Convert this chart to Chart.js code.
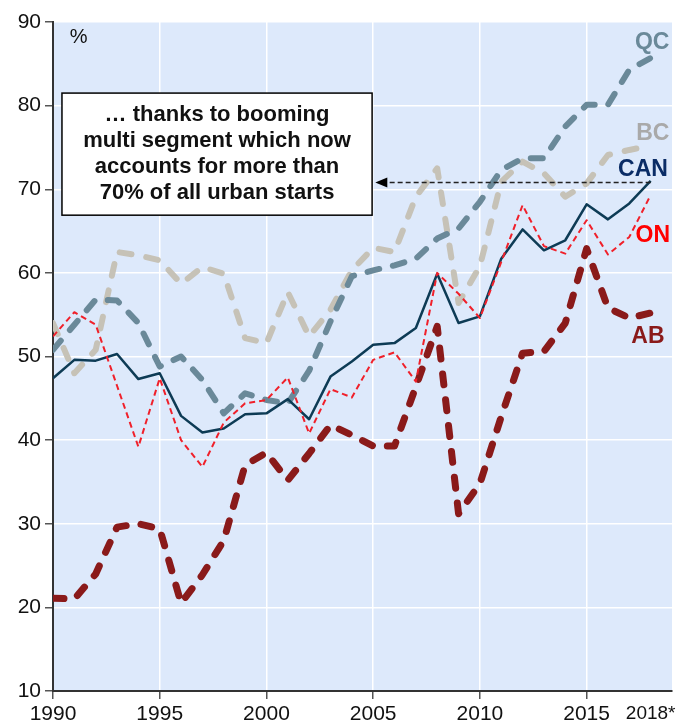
<!DOCTYPE html>
<html>
<head>
<meta charset="utf-8">
<script src="https://cdn.jsdelivr.net/npm/chart.js@4.4.0/dist/chart.umd.min.js"></script>
<style>
  body { margin: 0; background: #fff; }
  #chart { display: block; }
</style>
</head>
<body>
<canvas id="chart" width="690" height="726"></canvas>
<script>
const years = [1990, 1991, 1992, 1993, 1994, 1995, 1996, 1997, 1998, 1999,
    2000, 2001, 2002, 2003, 2004, 2005, 2006, 2007, 2008, 2009,
    2010, 2011, 2012, 2013, 2014, 2015, 2016, 2017, 2018];

const qc = [50.8, 53.8, 56.8, 56.7, 54.0, 48.8, 50.0, 47.2, 43.2, 45.6,
    44.8, 44.4, 48.3, 54.2, 59.6, 60.3, 60.9, 61.7, 64.1, 65.3,
    68.5, 72.3, 73.7, 73.7, 77.5, 80.1, 80.1, 84.3, 85.7];
const bc = [54.0, 48.0, 50.8, 62.5, 62.1, 61.5, 58.7, 60.7, 59.9, 52.2,
    51.6, 57.7, 52.4, 55.6, 60.3, 63.0, 62.5, 69.1, 72.5, 56.4,
    60.8, 70.9, 73.3, 71.9, 69.1, 70.7, 74.1, 74.7, 75.2];
const can = [47.4, 49.6, 49.5, 50.3, 47.3, 48.0, 42.9, 40.9, 41.4, 43.1,
    43.2, 44.9, 42.5, 47.6, 49.4, 51.4, 51.6, 53.4, 59.9, 54.0,
    54.8, 61.7, 65.2, 62.7, 63.9, 68.2, 66.4, 68.3, 71.0];
const on = [52.4, 55.3, 53.8, 46.5, 39.2, 47.4, 40.0, 36.8, 42.1, 44.4,
    44.8, 47.5, 40.8, 46.1, 45.1, 49.6, 50.5, 47.0, 60.0, 57.5,
    54.6, 61.3, 68.1, 63.2, 62.3, 66.3, 62.2, 64.3, 69.3];
const ab = [21.1, 21.0, 24.0, 29.6, 30.0, 29.4, 20.5, 23.9, 28.0, 37.0,
    38.5, 35.2, 38.4, 41.8, 40.6, 39.3, 39.3, 46.4, 53.6, 31.2,
    34.8, 42.8, 50.4, 50.6, 54.0, 62.9, 55.8, 54.6, 55.2];

const xTicks = [1990, 1995, 2000, 2005, 2010, 2015, 2018];
const yTicks = [10, 20, 30, 40, 50, 60, 70, 80, 90];

const noteLines = [
    "\u2026 thanks to booming",
    "multi segment which now",
    "accounts for more than",
    "70% of all urban starts"
];

const FONT = "Arial, 'Liberation Sans', sans-serif";

function pts(values) {
    return years.map((y, i) => ({ x: y, y: values[i] }));
}

// annotations placed in data units
const seriesLabels = [
    { text: "QC", x: 2018.07, y: 87.5, color: "#6a8999" },
    { text: "BC", x: 2018.1, y: 76.7, color: "#a9a9a9" },
    { text: "CAN", x: 2017.64, y: 72.3, color: "#0a2c66" },
    { text: "ON", x: 2018.1, y: 64.5, color: "#ff0000" },
    { text: "AB", x: 2017.87, y: 52.4, color: "#8a1a1a" }
];
const noteBox = { x0: 1990.42, x1: 2004.95, y0: 66.9, y1: 81.5 };
const arrow = { from: 2018, to: 2005.1, y: 70.8 };

const extras = {
    id: "extras",
    beforeDraw(chart) {
        const { ctx, chartArea: a } = chart;
        ctx.save();
        ctx.fillStyle = "#dde9fb";
        ctx.fillRect(a.left, a.top, a.right - a.left, a.bottom - a.top);
        ctx.restore();
    },
    afterDatasetsDraw(chart) {
        const { ctx, scales } = chart;
        const X = scales.x, Y = scales.y;
        ctx.save();

        // % unit
        ctx.fillStyle = "#111";
        ctx.font = "20px " + FONT;
        ctx.textAlign = "center";
        ctx.textBaseline = "middle";
        ctx.fillText("%", X.getPixelForValue(1991.2), Y.getPixelForValue(88.2));

        // series labels
        ctx.font = "bold 23px " + FONT;
        seriesLabels.forEach((l) => {
            ctx.fillStyle = l.color;
            ctx.fillText(l.text, X.getPixelForValue(l.x), Y.getPixelForValue(l.y));
        });

        // dashed arrow
        const ay = Y.getPixelForValue(arrow.y);
        const ax0 = X.getPixelForValue(arrow.from);
        const ax1 = X.getPixelForValue(arrow.to);
        ctx.strokeStyle = "#222";
        ctx.lineWidth = 1.5;
        ctx.setLineDash([5, 3]);
        ctx.beginPath();
        ctx.moveTo(ax0, ay);
        ctx.lineTo(ax1 + 10, ay);
        ctx.stroke();
        ctx.setLineDash([]);
        ctx.fillStyle = "#000";
        ctx.beginPath();
        ctx.moveTo(ax1, ay);
        ctx.lineTo(ax1 + 12, ay - 5);
        ctx.lineTo(ax1 + 12, ay + 5);
        ctx.closePath();
        ctx.fill();

        // note box
        const bx0 = X.getPixelForValue(noteBox.x0);
        const bx1 = X.getPixelForValue(noteBox.x1);
        const by0 = Y.getPixelForValue(noteBox.y1);
        const by1 = Y.getPixelForValue(noteBox.y0);
        ctx.fillStyle = "#fff";
        ctx.fillRect(bx0, by0, bx1 - bx0, by1 - by0);
        ctx.strokeStyle = "#000";
        ctx.lineWidth = 1.5;
        ctx.strokeRect(bx0, by0, bx1 - bx0, by1 - by0);
        ctx.fillStyle = "#111";
        ctx.font = "bold 22px " + FONT;
        const cx = (bx0 + bx1) / 2;
        const cy = (by0 + by1) / 2;
        const lh = 26;
        noteLines.forEach((t, i) => {
            ctx.fillText(t, cx, cy + (i - (noteLines.length - 1) / 2) * lh);
        });
        ctx.restore();
    }
};

new Chart(document.getElementById("chart"), {
    type: "line",
    data: {
        datasets: [
            {
                label: "BC", data: pts(bc), borderColor: "#c6c2b7", borderWidth: 6,
                borderDash: [12, 15], borderCapStyle: "round", order: 5
            },
            {
                label: "QC", data: pts(qc), borderColor: "#6a8999", borderWidth: 6,
                borderDash: [12, 14], borderCapStyle: "round", order: 4
            },
            {
                label: "AB", data: pts(ab), borderColor: "#8a1a1a", borderWidth: 7,
                borderDash: [11, 15], borderCapStyle: "round", order: 3
            },
            {
                label: "CAN", data: pts(can), borderColor: "#0d3b55", borderWidth: 2.5,
                order: 2
            },
            {
                label: "ON", data: pts(on), borderColor: "#f0202a", borderWidth: 2,
                borderDash: [6, 4], order: 1
            }
        ]
    },
    options: {
        responsive: false,
        animation: false,
        layout: { padding: { top: 22, right: 18, left: 0, bottom: 0 } },
        elements: {
            point: { radius: 0 },
            line: { tension: 0, fill: false, borderJoinStyle: "round" }
        },
        plugins: {
            legend: { display: false },
            tooltip: { enabled: false }
        },
        scales: {
            x: {
                type: "linear",
                min: 1990,
                max: 2019,
                afterBuildTicks: (s) => { s.ticks = xTicks.map((v) => ({ value: v })); },
                afterFit: (s) => { s.height = 35; },
                border: { color: "#333", width: 2 },
                grid: {
                    color: (c) => (c.tick && c.tick.value === 2018 ? "rgba(0,0,0,0)" : "#ffffff"),
                    lineWidth: 1.5,
                    tickLength: 8,
                    tickColor: (c) => (c.tick && c.tick.value === 2018 ? "rgba(0,0,0,0)" : "#555")
                },
                ticks: {
                    color: "#111",
                    padding: 3,
                    maxRotation: 0,
                    autoSkip: false,
                    font: (c) => (c.tick && c.tick.value === 2018
                        ? { family: FONT, size: 19 }
                        : { family: FONT, size: 21 }),
                    callback: (v) => (v === 2018 ? "2018*" : String(v))
                }
            },
            y: {
                min: 10,
                max: 90,
                afterBuildTicks: (s) => { s.ticks = yTicks.map((v) => ({ value: v })); },
                afterFit: (s) => { s.width = 53; },
                border: { color: "#333", width: 2 },
                grid: {
                    color: "#ffffff",
                    lineWidth: 1.5,
                    tickLength: 8,
                    tickColor: "#555"
                },
                ticks: {
                    color: "#111",
                    padding: 4,
                    font: { family: FONT, size: 21 }
                }
            }
        }
    },
    plugins: [extras]
});
</script>
</body>
</html>
